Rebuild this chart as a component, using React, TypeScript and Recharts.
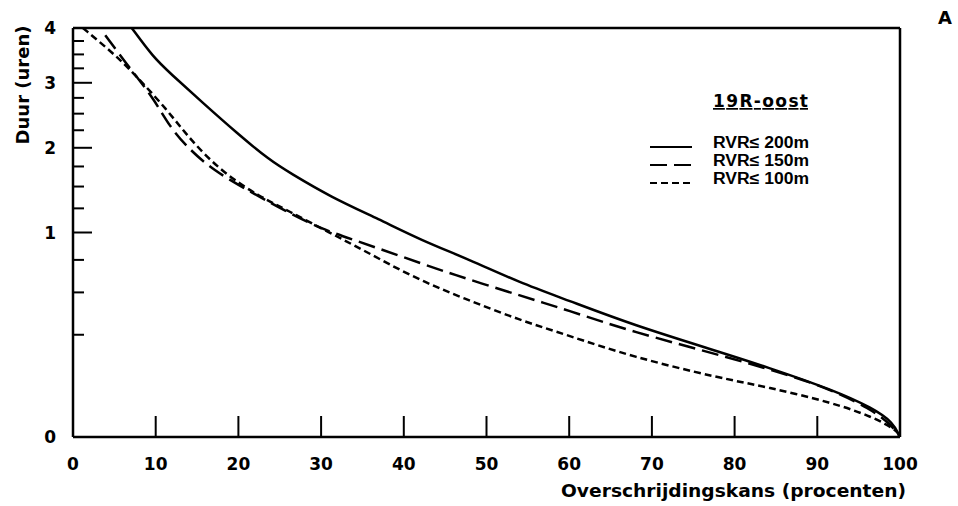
import { LineChart, Line, XAxis, YAxis, Legend, Label } from "recharts";

type Pt = { p: number; v: number };

// Overschrijdingskans (%) vs duur (uren)
const xTicks = [0, 10, 20, 30, 40, 50, 60, 70, 80, 90, 100];
const yTicks = [0, 0.25, 0.5, 0.75, 1, 1.25, 1.5, 1.75, 2, 2.25, 2.5, 2.75, 3, 3.25, 3.5, 3.75, 4];
const yLabels = [0, 1, 2, 3, 4];
const seriesNames = ["RVR≤ 200m", "RVR≤ 150m", "RVR≤ 100m"];

const rvr200: Pt[] = [
    { p: 7.1, v: 4.0 },
    { p: 9.7, v: 3.45 },
    { p: 11.7, v: 3.17 },
    { p: 15.7, v: 2.67 },
    { p: 19.8, v: 2.21 },
    { p: 23.8, v: 1.83 },
    { p: 26.2, v: 1.67 },
    { p: 31.1, v: 1.38 },
    { p: 37.1, v: 1.13 },
    { p: 42.0, v: 0.93 },
    { p: 48.0, v: 0.75 },
    { p: 54.0, v: 0.57 },
    { p: 59.7, v: 0.45 },
    { p: 67.7, v: 0.3 },
    { p: 78.2, v: 0.173 },
    { p: 83.9, v: 0.117 },
    { p: 91.9, v: 0.053 },
    { p: 96.7, v: 0.02 },
    { p: 99.2, v: 0.005 },
    { p: 100, v: 0 },
];

const rvr150: Pt[] = [
    { p: 3.9, v: 3.86 },
    { p: 7.3, v: 3.17 },
    { p: 9.7, v: 2.75 },
    { p: 11.7, v: 2.3 },
    { p: 13.8, v: 2.01 },
    { p: 16.9, v: 1.7 },
    { p: 21.8, v: 1.42 },
    { p: 25.9, v: 1.21 },
    { p: 29.9, v: 1.04 },
    { p: 33.9, v: 0.93 },
    { p: 39.9, v: 0.775 },
    { p: 46.0, v: 0.63 },
    { p: 54.0, v: 0.48 },
    { p: 59.7, v: 0.386 },
    { p: 67.7, v: 0.264 },
    { p: 78.2, v: 0.161 },
    { p: 90.0, v: 0.07 },
    { p: 96.7, v: 0.018 },
    { p: 99.2, v: 0.0024 },
    { p: 100, v: 0 },
];

const rvr100: Pt[] = [
    { p: 1.2, v: 4.0 },
    { p: 4.8, v: 3.53 },
    { p: 7.3, v: 3.17 },
    { p: 11.4, v: 2.56 },
    { p: 14.2, v: 2.11 },
    { p: 18.1, v: 1.67 },
    { p: 22.6, v: 1.38 },
    { p: 25.9, v: 1.23 },
    { p: 31.1, v: 0.995 },
    { p: 35.1, v: 0.836 },
    { p: 41.1, v: 0.61 },
    { p: 47.2, v: 0.46 },
    { p: 54.0, v: 0.327 },
    { p: 59.7, v: 0.249 },
    { p: 67.7, v: 0.153 },
    { p: 78.2, v: 0.083 },
    { p: 83.9, v: 0.06 },
    { p: 91.9, v: 0.028 },
    { p: 96.7, v: 0.0096 },
    { p: 99.6, v: 0.0012 },
    { p: 100, v: 0 },
];

const FONT = "'DejaVu Sans', sans-serif";
const NARROW = "'Liberation Sans', Arial, sans-serif";
const axisStyle = { stroke: "#000", strokeWidth: 2.5 };

// ticks point inwards, like on the original plot frame
const BottomTick = (props: any) => {
    const { x, y, payload } = props;
    return (
        <g>
            <line x1={x} y1={y} x2={x} y2={y - 21} stroke="#000" strokeWidth={2} />
            <text x={x} y={y + 33} textAnchor="middle" fontFamily={FONT} fontWeight="bold" fontSize={17} fill="#000">
                {payload.value}
            </text>
        </g>
    );
};

const TopTick = (props: any) => {
    const { x, y } = props;
    return <line x1={x} y1={y} x2={x} y2={y + 17} stroke="#000" strokeWidth={2} />;
};

const LeftTick = (props: any) => {
    const { x, y, payload } = props;
    const major = yLabels.includes(payload.value);
    return (
        <g>
            <line x1={x} y1={y} x2={x + (major ? 19 : 11)} y2={y} stroke="#000" strokeWidth={2} />
            {major && (
                <text x={x - 17} y={y + 6} textAnchor="end" fontFamily={FONT} fontWeight="bold" fontSize={17} fill="#000">
                    {payload.value}
                </text>
            )}
        </g>
    );
};

const RightTick = (props: any) => {
    const { x, y, payload } = props;
    const major = yLabels.includes(payload.value);
    return <line x1={x} y1={y} x2={x - (major ? 20 : 12)} y2={y} stroke="#000" strokeWidth={2} />;
};

const renderLegend = (props: any) => {
    const items = [...(props.payload || [])].sort(
        (a: any, b: any) => seriesNames.indexOf(a.value) - seriesNames.indexOf(b.value)
    );
    return (
        <svg width={190} height={110} style={{ display: "block" }}>
            <text
                x={68}
                y={19}
                fontFamily={FONT}
                fontWeight="bold"
                fontSize={17}
                textDecoration="underline"
                textLength={95}
                lengthAdjust="spacing"
                fill="#000"
            >
                19R-oost
            </text>
            {items.map((entry: any, i: number) => (
                <g key={entry.value}>
                    <line
                        x1={5}
                        x2={47}
                        y1={59 + i * 18}
                        y2={59 + i * 18}
                        stroke="#000"
                        strokeWidth={2}
                        strokeDasharray={entry.payload?.strokeDasharray}
                    />
                    <text
                        x={68}
                        y={60 + i * 18}
                        textLength={96}
                        lengthAdjust="spacingAndGlyphs"
                        fontFamily={NARROW}
                        fontWeight="bold"
                        fontSize={16}
                        fill="#000"
                    >
                        {entry.value}
                    </text>
                </g>
            ))}
        </svg>
    );
};

export default function App() {
    return (
        <div style={{ position: "absolute", left: 0, top: 0, background: "#fff" }}>
            <LineChart width={958} height={506} margin={{ top: 0, right: 0, bottom: 0, left: 0 }}>
                <XAxis
                    xAxisId="bottom"
                    type="number"
                    dataKey="p"
                    domain={[0, 100]}
                    ticks={xTicks}
                    interval={0}
                    height={69}
                    tickSize={0}
                    tickMargin={0}
                    tickLine={false}
                    axisLine={axisStyle}
                    tick={BottomTick}
                >
                    <Label
                        content={(lp: any) => {
                            const vb = lp.viewBox;
                            return (
                                <text
                                    x={vb.x + vb.width + 6}
                                    y={vb.y + 60}
                                    textAnchor="end"
                                    textLength={345}
                                    lengthAdjust="spacingAndGlyphs"
                                    fontFamily={FONT}
                                    fontWeight="bold"
                                    fontSize={18}
                                    fill="#000"
                                >
                                    Overschrijdingskans (procenten)
                                </text>
                            );
                        }}
                    />
                </XAxis>
                <XAxis
                    xAxisId="top"
                    orientation="top"
                    type="number"
                    dataKey="p"
                    domain={[0, 100]}
                    ticks={xTicks}
                    interval={0}
                    height={28}
                    tickSize={0}
                    tickMargin={0}
                    tickLine={false}
                    axisLine={axisStyle}
                    tick={TopTick}
                >
                    <Label
                        content={(lp: any) => {
                            const vb = lp.viewBox;
                            return (
                                <text x={vb.x + vb.width + 45} y={vb.y + 24} textAnchor="middle" fontFamily={FONT} fontWeight="bold" fontSize={18} fill="#000">
                                    A
                                </text>
                            );
                        }}
                    />
                </XAxis>
                <YAxis
                    yAxisId="left"
                    type="number"
                    scale="sqrt"
                    domain={[0, 4]}
                    ticks={yTicks}
                    interval={0}
                    width={73}
                    tickSize={0}
                    tickMargin={0}
                    tickLine={false}
                    axisLine={axisStyle}
                    tick={LeftTick}
                >
                    <Label
                        content={(lp: any) => {
                            const vb = lp.viewBox;
                            const cx = vb.x + 22;
                            const cy = vb.y + 57;
                            return (
                                <text
                                    x={cx}
                                    y={cy}
                                    transform={`rotate(-90, ${cx}, ${cy})`}
                                    textAnchor="middle"
                                    dominantBaseline="central"
                                    fontFamily={FONT}
                                    fontWeight="bold"
                                    fontSize={18}
                                    fill="#000"
                                >
                                    Duur (uren)
                                </text>
                            );
                        }}
                    />
                </YAxis>
                <YAxis
                    yAxisId="right"
                    orientation="right"
                    type="number"
                    scale="sqrt"
                    domain={[0, 4]}
                    ticks={yTicks}
                    interval={0}
                    width={58}
                    tickSize={0}
                    tickMargin={0}
                    tickLine={false}
                    axisLine={axisStyle}
                    tick={RightTick}
                />
                <Legend
                    layout="vertical"
                    align="center"
                    verticalAlign="middle"
                    content={renderLegend}
                    wrapperStyle={{ position: "absolute", left: 645, top: 88, width: 190, height: 110 }}
                />
                <Line
                    xAxisId="bottom"
                    yAxisId="left"
                    data={rvr200}
                    dataKey="v"
                    name={seriesNames[0]}
                    type="basis"
                    stroke="#000"
                    strokeWidth={2.5}
                    dot={false}
                    activeDot={false}
                    isAnimationActive={false}
                />
                <Line
                    xAxisId="bottom"
                    yAxisId="left"
                    data={rvr150}
                    dataKey="v"
                    name={seriesNames[1]}
                    type="basis"
                    stroke="#000"
                    strokeWidth={2.5}
                    strokeDasharray="17 7"
                    dot={false}
                    activeDot={false}
                    isAnimationActive={false}
                />
                <Line
                    xAxisId="bottom"
                    yAxisId="left"
                    data={rvr100}
                    dataKey="v"
                    name={seriesNames[2]}
                    type="basis"
                    stroke="#000"
                    strokeWidth={2.5}
                    strokeDasharray="7 4"
                    dot={false}
                    activeDot={false}
                    isAnimationActive={false}
                />
            </LineChart>
        </div>
    );
}
